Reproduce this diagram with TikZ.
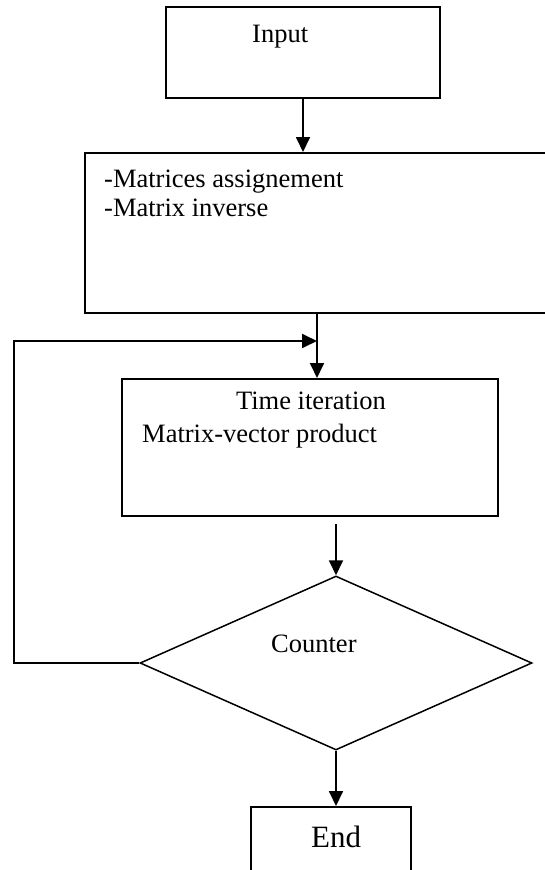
\documentclass[tikz,border=0pt]{standalone}
\usepackage{fontspec}
\setmainfont{Liberation Serif}
\usetikzlibrary{calc,shapes.geometric,arrows.meta}
\tikzset{
  flowbox/.style={
    draw,
    rectangle,
    line width=2pt,
    inner sep=0pt
  },
  decision/.style={draw, diamond, line width=1.5pt, inner sep=0pt},
  boxtext/.style={inner sep=0pt, align=left,
    font=\fontsize{26.5}{29}\selectfont},
  flow/.style={line width=1.8pt, -{Triangle[length=15pt,width=14pt]}}
}

\begin{document}
\begin{tikzpicture}[x=1pt,y=-1pt]
  \clip (0,0) rectangle (545,870);

  % The boxes
  \node[flowbox, minimum width=274pt, minimum height=91pt] (input)
    at (303,52.5) {};
  \node[flowbox, minimum width=464pt, minimum height=160pt] (prep)
    at (317,233) {};
  \node[flowbox, minimum width=376pt, minimum height=137pt] (timeit)
    at (310,447.5) {};
  \node[decision, minimum width=392pt, minimum height=174pt] (counter)
    at (336,663) {};
  \node[flowbox, minimum width=160pt, minimum height=100pt] (end)
    at (331,857) {};

  % The labels
  \node[boxtext, anchor=base west] (inputtxt)
    at ([xshift=87pt,yshift=-36pt]input.north west) {Input};
  \node[boxtext, anchor=north west] (preptxt)
    at ([xshift=20pt,yshift=-18pt]prep.north west)
    {-Matrices assignement\\-Matrix inverse};
  \node[boxtext, anchor=base] (timetxt)
    at ([xshift=1pt,yshift=-31pt]timeit.north) {Time iteration};
  \node[boxtext, anchor=base west] (prodtxt)
    at ([xshift=21pt,yshift=-64pt]timeit.north west) {Matrix-vector product};
  \node[boxtext, anchor=base west] (countertxt)
    at ([xshift=-65pt,yshift=11pt]counter.center) {Counter};
  \node[boxtext, anchor=base west, font=\fontsize{31}{35}\selectfont] (endtxt)
    at ([xshift=61pt,yshift=-41pt]end.north west) {End};

  % The arrows
  \coordinate (join) at ([yshift=-27pt]prep.south);
  \draw[flow] (input.south) -- (input.south |- prep.north);
  \draw[flow] (prep.south) -- (prep.south |- timeit.north);
  \draw[flow] ([yshift=-7pt]timeit.south -| counter.north) -- (counter.north);
  \draw[flow] (counter.south) -- (counter.south |- end.north);

  % The loop back
  \draw[flow] (counter.west) -- ++(-125,0) |- (join);
\end{tikzpicture}
\end{document}
